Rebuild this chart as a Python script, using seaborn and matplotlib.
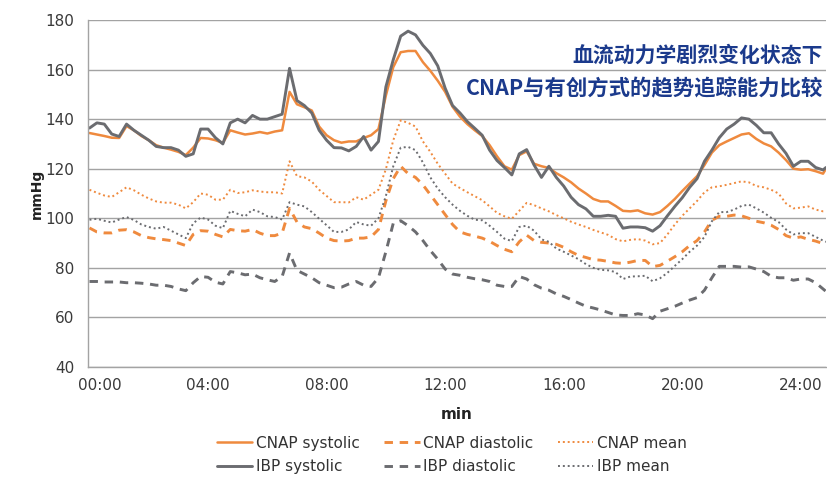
import matplotlib
matplotlib.use("Agg")
import matplotlib.pyplot as plt
import matplotlib.ticker as mticker
from matplotlib.lines import Line2D
from matplotlib.transforms import ScaledTranslation
import pandas as pd
import seaborn as sns

# ---------------- data ----------------
minutes = [i * 0.25 for i in range(100)] + [24.85]

cnap_systolic = [
    134.4, 133.8, 133.2, 132.5, 132.4, 137.2, 135.5, 133.2, 131.5, 129.5, 128.5, 127.7, 126.8, 125.5, 128.5, 132.4, 132.2, 131.5, 130.4, 135.5, 134.6, 133.8, 134.2, 134.8, 134.2,
    135.0, 135.5, 151.0, 146.0, 144.8, 143.5, 137.0, 133.5, 131.5, 130.5, 131.0, 131.0, 132.4, 133.5, 136.0, 149.5, 161.0, 167.0, 167.5, 167.5, 163.0, 159.5, 155.5, 151.0, 145.0, 141.0,
    138.0, 135.5, 133.2, 129.5, 125.0, 121.0, 119.6, 125.5, 127.0, 122.0, 121.0, 120.3, 118.2, 116.5, 114.5, 112.0, 110.0, 107.8, 106.8, 106.8, 105.0, 103.0, 102.8, 103.2, 102.0,
    101.5, 102.5, 105.0, 107.8, 111.0, 114.0, 117.0, 121.5, 126.5, 129.5, 131.0, 132.4, 133.8, 134.3, 132.0, 130.2, 129.0, 126.5, 123.5, 120.0, 119.6, 119.8, 119.0, 118.0,
    120.0,
]
ibp_systolic = [
    136.4, 138.5, 138.0, 134.0, 133.0, 138.0, 135.5, 133.5, 131.5, 129.0, 128.5, 128.5, 127.5, 125.0, 126.0, 136.0, 136.0, 132.5, 130.0, 138.5, 140.0, 138.5, 141.5, 140.0, 140.0,
    141.0, 142.0, 160.5, 147.5, 145.5, 142.5, 135.5, 131.5, 128.5, 128.4, 127.2, 129.0, 133.0, 127.5, 131.0, 153.0, 164.0, 173.5, 175.5, 174.0, 169.8, 166.5, 161.5, 152.5, 145.5, 142.5,
    139.0, 136.3, 133.5, 127.5, 123.3, 120.5, 117.5, 126.0, 127.7, 121.5, 116.5, 121.0, 116.5, 113.0, 108.5, 105.5, 103.8, 100.8, 100.8, 101.2, 100.8, 96.0, 96.5, 96.5, 96.2,
    94.8, 97.0, 101.0, 104.8, 108.3, 112.5, 116.0, 123.0, 127.5, 132.5, 136.0, 138.0, 140.5, 140.0, 137.5, 134.5, 134.5, 130.0, 126.2, 121.0, 123.0, 123.0, 120.5, 119.5,
    120.5,
]
cnap_mean = [
    111.5, 110.3, 109.2, 108.6, 110.5, 112.5, 111.3, 109.5, 108.0, 106.8, 106.3, 106.3, 105.5, 104.0, 106.5, 110.0, 109.5, 107.5, 107.5, 111.5, 110.2, 110.5, 111.3, 110.8, 110.5,
    110.5, 110.0, 123.0, 117.0, 116.5, 114.8, 111.5, 109.0, 106.5, 106.5, 106.4, 108.5, 107.5, 109.5, 111.5, 119.8, 131.5, 139.5, 138.5, 137.0, 131.0, 126.8, 122.0, 118.0, 114.0, 112.2,
    110.5, 108.9, 107.3, 104.8, 102.2, 100.8, 99.8, 103.0, 106.2, 105.3, 104.0, 102.8, 101.3, 100.0, 98.6, 97.5, 96.5, 95.3, 94.3, 93.3, 91.6, 90.7, 91.3, 91.6, 91.0,
    89.5, 90.0, 93.5, 97.5, 101.0, 104.0, 107.0, 110.5, 112.5, 112.9, 113.5, 114.2, 114.9, 114.5, 113.0, 112.5, 111.5, 110.0, 106.0, 104.0, 104.3, 104.8, 103.5, 102.8,
    102.8,
]
ibp_mean = [
    99.4, 99.8, 99.0, 98.3, 99.5, 100.5, 99.3, 97.5, 96.5, 95.8, 96.5, 95.0, 93.5, 92.0, 98.0, 100.3, 99.5, 97.0, 96.0, 103.0, 101.8, 100.8, 103.5, 102.5, 100.8,
    100.5, 99.5, 106.5, 105.5, 104.8, 102.5, 99.8, 97.2, 94.5, 94.5, 95.5, 98.5, 97.5, 97.0, 100.0, 109.0, 121.0, 128.5, 128.8, 127.5, 122.5, 116.5, 112.0, 108.5, 105.5, 103.0,
    101.0, 99.4, 99.2, 97.0, 94.5, 91.8, 90.8, 96.5, 97.0, 95.0, 91.5, 90.5, 87.8, 86.5, 85.0, 83.5, 81.5, 80.0, 79.2, 79.0, 78.3, 75.5, 76.5, 76.6, 76.8,
    74.6, 75.8, 78.0, 80.8, 83.5, 86.5, 89.0, 92.5, 98.8, 102.5, 102.5, 103.5, 105.0, 105.5, 104.0, 102.3, 100.2, 98.5, 95.5, 93.5, 94.0, 94.0, 92.5, 91.0,
    90.5,
]
cnap_diastolic = [
    96.1, 94.5, 94.1, 94.1, 95.2, 95.4, 94.5, 93.0, 92.2, 91.7, 91.4, 91.0, 90.0, 89.0, 93.5, 95.0, 94.8, 93.5, 92.5, 95.5, 95.0, 94.8, 95.5, 94.0, 93.0,
    93.0, 94.0, 104.0, 98.5, 96.5, 95.8, 94.0, 92.0, 91.0, 90.8, 91.0, 92.0, 92.0, 92.5, 95.5, 107.0, 116.0, 121.0, 118.0, 116.5, 113.5, 109.5, 105.5, 101.5, 97.5, 94.5,
    93.5, 92.8, 92.0, 90.7, 89.0, 87.5, 86.5, 90.5, 93.2, 91.0, 90.3, 90.0, 89.5, 88.3, 86.5, 85.0, 84.2, 83.3, 83.1, 82.6, 82.0, 81.8, 82.3, 83.0, 83.0,
    80.5, 81.0, 82.7, 84.5, 86.5, 89.0, 91.0, 94.5, 99.2, 100.8, 100.8, 101.3, 101.0, 100.0, 98.8, 98.2, 97.2, 95.5, 93.0, 92.0, 92.5, 91.5, 90.8, 89.8,
    90.5,
]
ibp_diastolic = [
    74.5, 74.5, 74.3, 74.3, 74.3, 74.0, 74.0, 73.8, 73.5, 73.0, 73.0, 72.5, 71.5, 70.8, 74.0, 76.5, 76.2, 74.2, 73.5, 78.5, 78.0, 77.2, 77.5, 76.0, 75.2,
    74.5, 76.5, 86.0, 79.0, 77.5, 76.0, 74.0, 73.0, 72.0, 72.2, 73.5, 74.5, 73.0, 72.5, 76.0, 86.5, 98.0, 99.0, 97.0, 94.5, 91.0, 87.0, 83.5, 79.5, 77.5, 77.0,
    76.2, 75.6, 75.2, 74.5, 73.0, 72.5, 72.5, 76.5, 75.5, 73.2, 71.8, 71.0, 69.5, 68.5, 67.2, 65.8, 64.5, 63.8, 63.0, 62.0, 61.0, 60.8, 60.8, 61.5, 61.0,
    59.5, 62.5, 63.5, 64.5, 65.8, 67.0, 68.0, 71.0, 76.0, 80.6, 80.6, 80.6, 80.3, 80.4, 79.5, 78.5, 76.6, 76.0, 76.0, 75.0, 75.5, 75.5, 74.0, 71.5,
    70.5,
]

series_names = ["CNAP systolic", "CNAP diastolic", "CNAP mean",
                "IBP systolic", "IBP diastolic", "IBP mean"]
series_values = [cnap_systolic, cnap_diastolic, cnap_mean,
                 ibp_systolic, ibp_diastolic, ibp_mean]

y_ticks = [40, 60, 80, 100, 120, 140, 160, 180]
x_label_ticks = [0, 4, 8, 12, 16, 20, 24]
x_tick_labels = ["00:00", "04:00", "08:00", "12:00", "16:00", "20:00", "24:00"]

title_line1 = "血流动力学剧烈变化状态下"
title_line2 = "CNAP与有创方式的趋势追踪能力比较"

# ---------------- styling ----------------
ORANGE = "#EF8A3E"
GRAY = "#6B6C70"
styles = {
    "CNAP systolic": dict(color=ORANGE, linestyle="-", linewidth=1.8),
    "CNAP diastolic": dict(color=ORANGE, linestyle=(0, (2.9, 2.3)), linewidth=2.1),
    "CNAP mean": dict(color=ORANGE, linestyle=(0, (1.0, 1.5)), linewidth=1.4),
    "IBP systolic": dict(color=GRAY, linestyle="-", linewidth=2.1),
    "IBP diastolic": dict(color=GRAY, linestyle=(0, (2.9, 2.3)), linewidth=2.1),
    "IBP mean": dict(color=GRAY, linestyle=(0, (1.0, 1.5)), linewidth=1.4),
}

rows = []
for name, vals in zip(series_names, series_values):
    assert len(vals) == len(minutes), (name, len(vals))
    for t, v in zip(minutes, vals):
        rows.append({"min": t, "mmHg": v, "series": name})
df = pd.DataFrame(rows)

sns.set_theme(style="white")
plt.rcParams["font.family"] = ["DejaVu Sans"]

W, H = 827, 479
fig = plt.figure(figsize=(W / 100, H / 100), dpi=100)
ax = fig.add_axes([88 / W, 1 - 367 / H, 738 / W, 347 / H])

for name in series_names:
    st = styles[name]
    sns.lineplot(data=df[df["series"] == name], x="min", y="mmHg", ax=ax,
                 errorbar=None, legend=False, **st)

ax.set_xlim(-0.05, 24.85)
ax.set_ylim(40, 180)
ax.set_yticks(y_ticks)
ax.set_xticks(x_label_ticks)
ax.set_xticklabels(x_tick_labels)
ax.xaxis.set_minor_locator(mticker.MultipleLocator(1))

AXC = "#A3A3A3"
ax.yaxis.grid(True, color=AXC, linewidth=1.0)
ax.xaxis.grid(False)
ax.set_axisbelow(True)
for s in ["top", "right"]:
    ax.spines[s].set_visible(False)
for s in ["left", "bottom"]:
    ax.spines[s].set_color(AXC)
    ax.spines[s].set_linewidth(1.0)

ax.tick_params(axis="both", which="both", direction="out", length=4, width=1,
               color=AXC, labelsize=11, labelcolor="#3A3A3A")
ax.tick_params(axis="x", which="minor", length=4)
ax.tick_params(axis="y", pad=6)
ax.tick_params(axis="x", pad=4)
first = ax.get_xticklabels()[0]
first.set_transform(first.get_transform() + ScaledTranslation(10 / 100, 0, fig.dpi_scale_trans))

ax.set_xlabel("min", fontsize=11, fontweight="bold", color="#222222", labelpad=10)
ax.set_ylabel("mmHg", fontsize=10, fontweight="bold", color="#222222", labelpad=1)

# title block (top right)
cjk = ["Noto Sans CJK SC", "DejaVu Sans"]
fig.text(823 / W, 1 - 55 / H, title_line1, ha="right", va="center", fontsize=15,
         fontweight="bold", color="#1B3A8C", family=cjk)
fig.text(823 / W, 1 - 89 / H, title_line2, ha="right", va="center", fontsize=15.4,
         fontweight="bold", color="#1B3A8C", family=cjk)

# legend (row-wise order as in reference)
order = ["CNAP systolic", "IBP systolic", "CNAP diastolic", "IBP diastolic", "CNAP mean", "IBP mean"]
handles = [Line2D([0], [0], **styles[name]) for name in order]
leg = fig.legend(handles, order, loc="center", bbox_to_anchor=(452 / W, 1 - 455 / H),
                 ncol=3, frameon=False, fontsize=11, handlelength=2.3,
                 handletextpad=0.25, columnspacing=1.6, labelspacing=0.55)
for t in leg.get_texts():
    t.set_color("#333333")

fig.savefig("out.png", dpi=100)
